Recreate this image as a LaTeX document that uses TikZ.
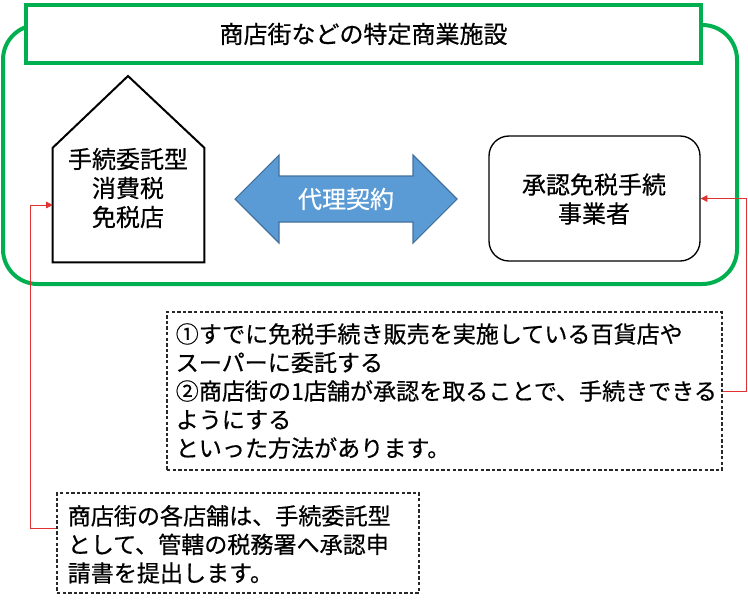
\documentclass[tikz,border=0pt]{standalone}
\usepackage{fontspec}
\setmainfont{Noto Sans CJK JP}[FakeBold=0.5]
\usetikzlibrary{arrows.meta}
\definecolor{grn}{RGB}{0,176,80}
\definecolor{bluefill}{RGB}{91,155,213}
\definecolor{blueline}{RGB}{65,113,156}
\definecolor{redl}{RGB}{225,50,50}
\definecolor{dashc}{RGB}{40,40,40}
\tikzset{
  jp/.style={font=\fontsize{18}{21.75}\selectfont, align=center, inner sep=0pt},
  jpbox/.style={font=\fontsize{17.3}{21.4}\selectfont, align=left, inner sep=0pt},
  dashbox/.style={draw=dashc, line width=0.8pt, dash pattern=on 2.6pt off 1.6pt, inner sep=0pt},
  redline/.style={draw=redl, line width=0.6pt, -{Triangle[length=5pt,width=5pt]}},
  greenline/.style={draw=grn, line width=3pt},
}
\begin{document}
\begin{tikzpicture}[x=0.75pt,y=-0.75pt]
\useasboundingbox (0,0) rectangle (748,600);
% outer frame
\draw[greenline, rounded corners=26pt] (3,25) rectangle (737,284);
% title
\node[greenline, fill=white, minimum width=506.25pt, minimum height=43.5pt, inner sep=0pt] (title) at (363.5,34) {};
\node[jp] (titletext) at (title.center) {商店街などの特定商業施設};
% house
\node[minimum width=113.25pt, minimum height=85.5pt, inner sep=0pt] (house) at (128.5,205) {};
\coordinate (peak) at (128,76);
\draw[line width=1.5pt, line join=miter] (house.south west) -- (house.south east) -- (house.north east) -- (peak) -- (house.north west) -- cycle;
\node[jp] (housetext) at (128,188) {手続委託型\\消費税\\免税店};
% double arrow
\coordinate (ac) at (346,199);
\draw[fill=bluefill, draw=blueline, line width=0.8pt]
  ([xshift=-83.25pt]ac) -- ++(44,-44) -- ++(0,21) -- ++(134,0) -- ++(0,-21)
  -- ++(44,44) -- ++(-44,44) -- ++(0,-21) -- ++(-134,0) -- ++(0,21) -- cycle;
\node[jp, text=white] (contract) at (ac) {代理契約};
% agent box
\node[draw, line width=1pt, rounded corners=15pt, minimum width=158.25pt, minimum height=93.75pt, inner sep=0pt] (agent) at (594.5,198.5) {};
\node[jp] (agenttext) at (594,199) {承認免税手続\\事業者};
% dashed boxes
\node[dashbox, minimum width=416.25pt, minimum height=118.5pt] (b1) at (444.5,391) {};
\node[jpbox, anchor=west] (t1) at ([xshift=6.75pt]b1.west) {①すでに免税手続き販売を実施している百貨店や\\スーパーに委託する\\②商店街の1店舗が承認を取ることで、手続きできる\\ようにする\\といった方法があります。};
\node[dashbox, minimum width=271.5pt, minimum height=75pt] (b2) at (238,543) {};
\node[jpbox, anchor=west] (t2) at ([xshift=8.25pt,yshift=-1pt]b2.west) {商店街の各店舗は、手続委託型\\として、管轄の税務署へ承認申\\請書を提出します。};
% connectors
\draw[redline] ([yshift=11.25pt]b2.west) -- ++(-26,0) |- (house.west);
\draw[redline] (b1.east) -- ++(24,0) |- (agent.east);
\end{tikzpicture}
\end{document}
